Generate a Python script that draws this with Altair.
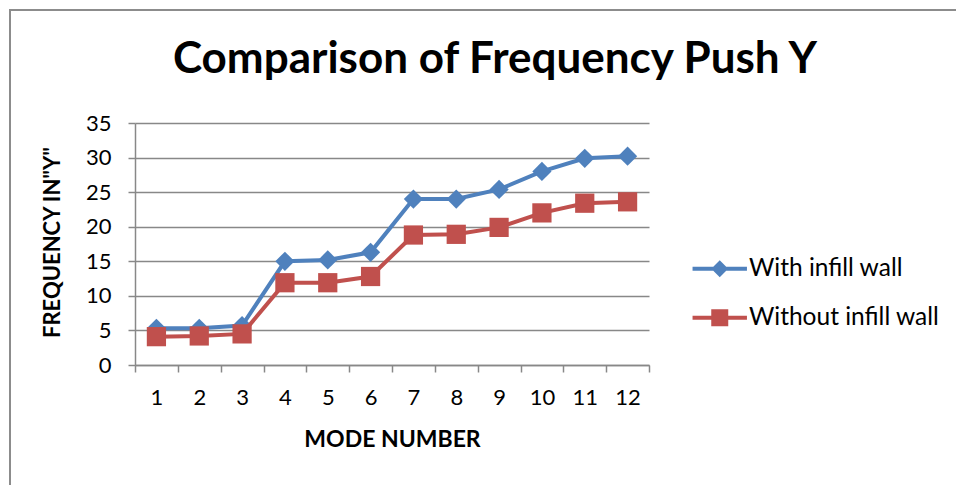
import altair as alt
import pandas as pd

# Mode numbers and measured frequencies (Push Y)
modes = list(range(1, 13))
with_infill = [5.3, 5.3, 5.7, 15.0, 15.2, 16.3, 24.0, 24.0, 25.4, 28.0, 29.9, 30.2]
without_infill = [4.1, 4.2, 4.5, 11.9, 11.9, 12.8, 18.8, 18.9, 19.9, 22.0, 23.4, 23.6]
series_names = ["With infill wall", "Without infill wall"]
series_colors = ["#4F81BD", "#C0504D"]
series_shapes = ["diamond", "square"]
y_ticks = [0, 5, 10, 15, 20, 25, 30, 35]

df = pd.DataFrame({
    "mode": modes * 2,
    "freq": with_infill + without_infill,
    "series": [series_names[0]] * len(modes) + [series_names[1]] * len(modes),
})

W, H = 514, 242
BAND = W / len(modes)
FONT = "Lato"
GREY = "#888888"

# legend glyphs: a short line with the marker in the middle
DIAMOND_KEY = ("M-3.2,-0.24 L-0.76,-0.24 L0,-1 L0.76,-0.24 L3.2,-0.24 L3.2,0.24 "
               "L0.76,0.24 L0,1 L-0.76,0.24 L-3.2,0.24 Z")
SQUARE_KEY = ("M-3.2,-0.24 L-1,-0.24 L-1,-1 L1,-1 L1,-0.24 L3.2,-0.24 L3.2,0.24 "
              "L1,0.24 L1,1 L-1,1 L-1,0.24 L-3.2,0.24 Z")

x_enc = alt.X(
    "mode:Q",
    scale=alt.Scale(domain=[0.5, len(modes) + 0.5], nice=False, zero=False),
    axis=alt.Axis(
        values=[m - 0.5 for m in modes] + [len(modes) + 0.5],
        labelExpr=f"datum.value < {len(modes)} ? format(datum.value + 0.5, 'd') : ''",
        labelOffset=BAND / 2,
        labelFlush=False,
        labelOverlap=False,
        labelFont=FONT, labelFontSize=22, labelColor="#000000",
        labelPadding=15,
        tickSize=7, tickColor=GREY, tickWidth=1.5,
        domainColor=GREY, domainWidth=1.5,
        grid=False,
        title="MODE NUMBER",
        titleFont=FONT, titleFontSize=23, titleFontWeight="bold", titleColor="#000000",
        titleX=W / 2, titleY=74, titleBaseline="middle", titleAlign="center",
    ),
)

y_enc = alt.Y(
    "freq:Q",
    scale=alt.Scale(domain=[0, 35], nice=False),
    axis=alt.Axis(
        values=y_ticks,
        labelFont=FONT, labelFontSize=22, labelColor="#000000",
        labelPadding=17,
        tickSize=7, tickColor=GREY, tickWidth=1.5,
        domainColor=GREY, domainWidth=1.5,
        grid=True, gridColor=GREY, gridWidth=1.5,
        title='FREQUENCY IN"Y"',
        titleFont=FONT, titleFontSize=22, titleFontWeight="bold", titleColor="#000000",
        titleX=-83, titleY=119, titleBaseline="middle", titleAlign="center", titleAngle=270,
    ),
)

legend = alt.Legend(
    orient="none", legendX=572.5, legendY=133.5,
    title=None, padding=0,
    labelFont=FONT, labelFontSize=24.5, labelColor="#000000", labelLimit=400,
    labelOffset=17, rowPadding=24,
    symbolSize=289, symbolStrokeWidth=0, symbolOpacity=1,
)

color_enc = alt.Color(
    "series:N",
    scale=alt.Scale(domain=series_names, range=series_colors),
    legend=legend,
)

base = alt.Chart(df)
layers = []
for name, shape in zip(series_names, series_shapes):
    sub = base.transform_filter(alt.datum.series == name)
    layers.append(sub.mark_line(strokeWidth=4).encode(x=x_enc, y=y_enc, color=color_enc))
    layers.append(sub.mark_point(filled=True, opacity=1, size=370, shape=shape).encode(
        x=x_enc, y=y_enc, color=color_enc))

# transparent layer that only carries the legend keys
legend_keys = base.mark_point(filled=True, opacity=0).encode(
    x=x_enc, y=y_enc, color=color_enc,
    shape=alt.Shape("series:N",
                    scale=alt.Scale(domain=series_names, range=[DIAMOND_KEY, SQUARE_KEY]),
                    legend=legend),
)

# outer frame around the chart area
frame = alt.Chart(pd.DataFrame({"frame": [0]})).mark_rect(
    fill=None, stroke="#8c8c8c", strokeWidth=2
).encode(
    x=alt.value(-125), x2=alt.value(W + 330),
    y=alt.value(-113), y2=alt.value(H + 140),
)

chart = alt.layer(frame, legend_keys, *layers).properties(
    width=W, height=H,
    autosize=alt.AutoSizeParams(type="none"),
    padding={"left": 135, "top": 123, "right": 956 - 135 - W, "bottom": 485 - 123 - H},
    background="#ffffff",
    title=alt.TitleParams(
        "Comparison of Frequency Push Y",
        font=FONT, fontSize=44, fontWeight="bold", color="#000000",
        anchor="middle", frame="group", dx=103, baseline="alphabetic", offset=-108,
    ),
).configure_view(stroke=None)

chart.save("out.html", embed_options={"renderer": "svg", "actions": False})
